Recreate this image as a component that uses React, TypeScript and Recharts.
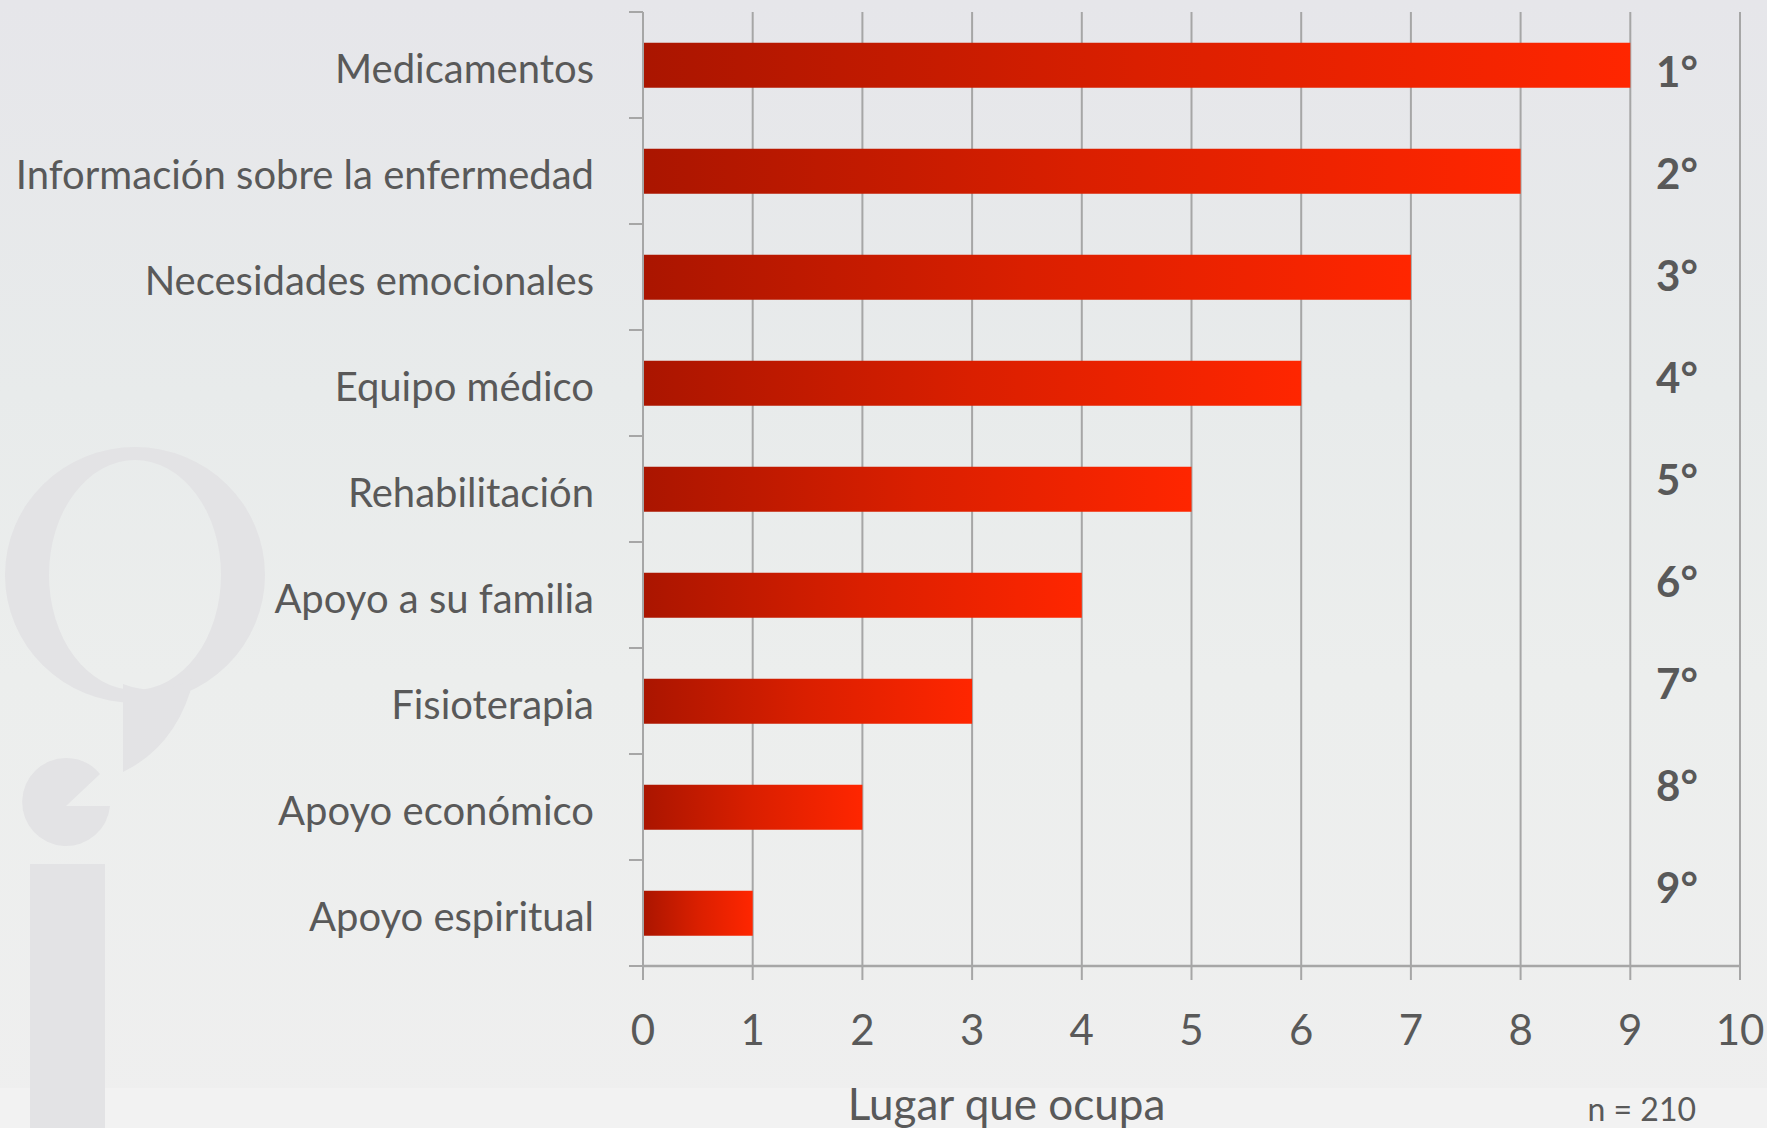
import { Bar, BarChart, CartesianGrid, Label, XAxis, YAxis } from "recharts";

// page has the default 8px body margin; the chart fills the whole window
if (typeof document !== "undefined") document.body.style.margin = "0";

const categories = [
  "Medicamentos",
  "Información sobre la enfermedad",
  "Necesidades emocionales",
  "Equipo médico",
  "Rehabilitación",
  "Apoyo a su familia",
  "Fisioterapia",
  "Apoyo económico",
  "Apoyo espiritual",
];
const places = [9, 8, 7, 6, 5, 4, 3, 2, 1];
const ranks = ["1°", "2°", "3°", "4°", "5°", "6°", "7°", "8°", "9°"];
const xTicks = [0, 1, 2, 3, 4, 5, 6, 7, 8, 9, 10];

const data = categories.map((name, i) => ({ name, value: places[i], rank: ranks[i] }));

const W = 1767;
const H = 1128;
const TOP = 12;
const X_AXIS_H = 162;
const TICK_MARGIN = 49;
const TICK_LEN = 14;
// half of one category band: Excel puts the y tick marks between categories
const HALF_BAND = (H - TOP - X_AXIS_H) / categories.length / 2;
const FONT = "Lato, 'Open Sans', sans-serif";
const TEXT = "#595959";
const GRID = "#a6a6a6";

function CategoryTick(props: any) {
  const { x, y, payload, index } = props;
  const axisX = x + TICK_MARGIN;
  return (
    <g>
      <line x1={axisX - TICK_LEN} x2={axisX} y1={y - HALF_BAND} y2={y - HALF_BAND} stroke={GRID} strokeWidth={2} />
      {index === categories.length - 1 && (
        <line x1={axisX - TICK_LEN} x2={axisX} y1={y + HALF_BAND} y2={y + HALF_BAND} stroke={GRID} strokeWidth={2} />
      )}
      <text x={x} y={y} dy={18} textAnchor="end" fill={TEXT} fontSize={40} fontFamily={FONT}>
        {payload.value}
      </text>
    </g>
  );
}

function Watermark() {
  return (
    <svg width={W} height={H} style={{ position: "absolute", left: 0, top: 0 }}>
      <defs>
        <linearGradient id="bg" x1="0" y1="0" x2="0" y2="1">
          <stop offset="0%" stopColor="#e6e6ea" />
          <stop offset="35%" stopColor="#e8ebeb" />
          <stop offset="60%" stopColor="#eceeed" />
          <stop offset="100%" stopColor="#efefef" />
        </linearGradient>
      </defs>
      <rect width={W} height={H} fill="url(#bg)" />
      <rect y={1088} width={W} height={H - 1088} fill="#f2f2f2" />
      <g fill="#e3e3e5">
        <path
          fillRule="evenodd"
          d="M5 575 A130 128 0 1 0 265 575 A130 128 0 1 0 5 575 Z M49 575 A86 115 0 1 0 221 575 A86 115 0 1 0 49 575 Z"
        />
        <path d="M123 684 L123 772 Q178 745 194 678 Q160 698 123 684 Z" />
        <path d="M66 758 A44 44 0 1 0 110 806 L66 806 L100 774 A44 44 0 0 0 66 758 Z" />
        <rect x={30} y={864} width={75} height={H - 864} />
      </g>
    </svg>
  );
}

export default function App() {
  return (
    <div style={{ position: "relative", width: W, height: H, fontFamily: FONT }}>
      <Watermark />
      <div style={{ position: "absolute", left: 0, top: 0 }}>
        <BarChart
          width={W}
          height={H}
          data={data}
          layout="vertical"
          margin={{ top: TOP, right: 26, bottom: 0, left: 0 }}
          barCategoryGap="29%"
        >
          <defs>
            <linearGradient id="barFill" x1="0" y1="0" x2="1" y2="0">
              <stop offset="0%" stopColor="#aa1500" />
              <stop offset="50%" stopColor="#da1f00" />
              <stop offset="100%" stopColor="#ff2600" />
            </linearGradient>
          </defs>
          <CartesianGrid horizontal={false} stroke={GRID} strokeWidth={2} />
          <XAxis
            type="number"
            domain={[0, 10]}
            ticks={xTicks}
            height={X_AXIS_H}
            stroke={GRID}
            axisLine={{ stroke: GRID, strokeWidth: 2.5 }}
            tickLine={{ stroke: GRID, strokeWidth: 2 }}
            tickSize={TICK_LEN}
            tickMargin={35}
            tick={{ fill: TEXT, fontSize: 42, fontFamily: FONT }}
          >
            <Label
              value="Lugar que ocupa"
              position="insideBottom"
              offset={8}
              dx={-185}
              style={{ fill: TEXT, fontSize: 44, fontFamily: FONT }}
            />
            <Label
              value="n = 210"
              position="insideBottomRight"
              offset={7}
              dx={-37}
              style={{ fill: TEXT, fontSize: 32, fontFamily: FONT }}
            />
          </XAxis>
          <YAxis
            type="category"
            dataKey="name"
            width={643}
            axisLine={{ stroke: GRID, strokeWidth: 2 }}
            tickLine={false}
            tickSize={0}
            tickMargin={TICK_MARGIN}
            interval={0}
            tick={<CategoryTick />}
          />
          <YAxis
            yAxisId="rank"
            orientation="right"
            type="category"
            dataKey="rank"
            width={1}
            axisLine={false}
            tickLine={false}
            tickSize={0}
            tickMargin={0}
            interval={0}
            padding={{ top: 9, bottom: 27 }}
            tick={{ fill: TEXT, fontSize: 42, fontWeight: 700, fontFamily: FONT, textAnchor: "middle", dx: -63 }}
          />
          <Bar dataKey="value" fill="url(#barFill)" isAnimationActive={false} />
        </BarChart>
      </div>
    </div>
  );
}
